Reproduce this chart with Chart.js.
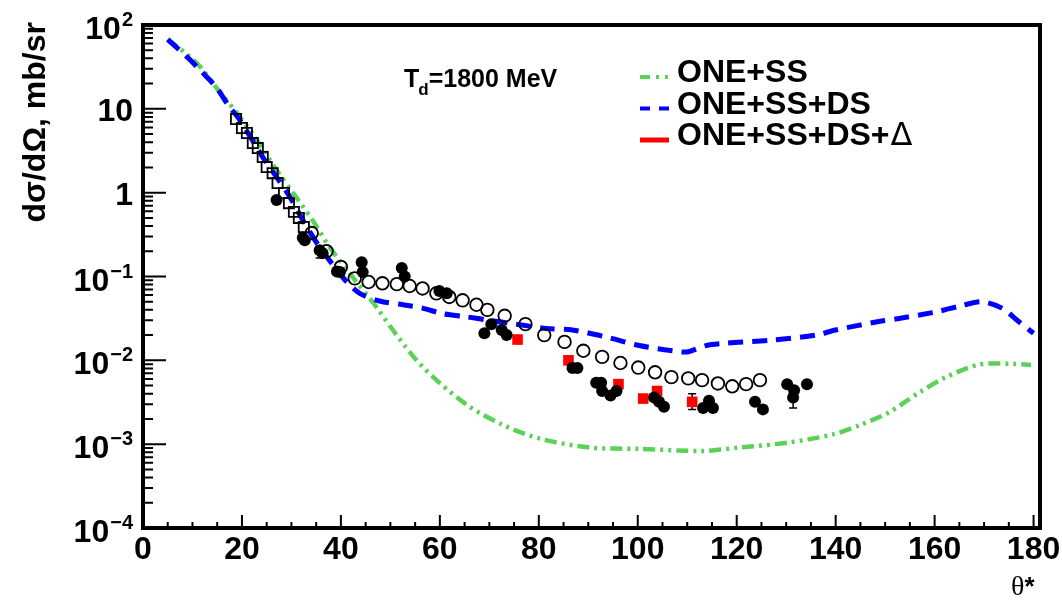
<!DOCTYPE html>
<html>
<head>
<meta charset="utf-8">
<script src="https://cdn.jsdelivr.net/npm/chart.js@4.4.1/dist/chart.umd.min.js"></script>
<style>
  html, body { margin: 0; padding: 0; background: #fff; }
</style>
</head>
<body>
<canvas id="xsec" width="1062" height="603"></canvas>
<script>
// dsigma/dOmega (mb/sr) vs theta* (deg), Td = 1800 MeV

// ONE+SS calculation
const oneSsAngle = [5, 10.9, 15.5, 19, 23, 27, 31.1, 34.7, 37.7, 42.4, 47.2, 50.5, 55.3, 59.9, 66, 72.7, 80.1, 90.2, 100.3, 113, 120.5, 130.6, 139.3, 145, 150.8, 156.8, 162.3, 169, 175.6, 179.5];
const oneSsValue = [68, 35, 15.9, 8.9, 4.25, 1.86, 0.86, 0.43, 0.224, 0.098, 0.043, 0.023, 0.010, 0.0054, 0.0028, 0.0017, 0.00117, 0.00091, 0.00088, 0.00083, 0.00091, 0.00105, 0.0013, 0.0017, 0.0024, 0.0041, 0.0063, 0.0089, 0.0091, 0.0088];

// ONE+SS+DS calculation
const oneSsDsAngle = [5, 8.9, 11.9, 14.9, 17.2, 19.6, 24.2, 27, 29.7, 32.3, 35.7, 39.2, 41.2, 43.8, 47.8, 52.5, 56.5, 60.6, 65.4, 70, 75.5, 81.5, 86.8, 93.6, 100.3, 107, 110, 113.8, 117.9, 127.1, 136, 140, 148.7, 152.8, 157.2, 161.3, 165.5, 169.5, 173.6, 177, 180];
const oneSsDsValue = [67, 41.6, 27.6, 17.8, 11.1, 7.3, 2.66, 1.53, 0.885, 0.47, 0.224, 0.12, 0.086, 0.063, 0.051, 0.046, 0.042, 0.036, 0.033, 0.030, 0.027, 0.024, 0.023, 0.019, 0.015, 0.013, 0.0126, 0.015, 0.016, 0.0174, 0.020, 0.023, 0.029, 0.0316, 0.035, 0.039, 0.045, 0.050, 0.042, 0.029, 0.021];

// ONE+SS+DS+Delta calculation (legend entry only)
const oneSsDsDeltaAngle = [];
const oneSsDsDeltaValue = [];

// measurements: open squares
const sqOpenAngle = [18.8, 20.0, 21.0, 22.2, 23.2, 24.2, 25.0, 26.2, 27.2, 28.5, 29.5, 30.5, 31.5, 32.5];
const sqOpenValue = [7.55, 5.9, 5.14, 3.9, 3.4, 2.66, 2.02, 1.71, 1.30, 0.99, 0.75, 0.59, 0.50, 0.39];

// measurements: filled circles
const dotAngle = [27.0, 32.3, 32.7, 35.7, 36.3, 39.2, 39.8, 44.2, 44.4, 52.3, 52.9, 59.9, 61.4, 69.0, 70.4, 72.5, 73.5, 86.8, 87.8, 91.6, 92.6, 92.8, 94.5, 95.7, 103.3, 104.3, 105.3, 113.2, 114.4, 115.2, 123.7, 125.3, 130.2, 131.6, 131.4, 134.2];
const dotValue = [0.82, 0.29, 0.27, 0.206, 0.19, 0.115, 0.113, 0.148, 0.113, 0.126, 0.10, 0.067, 0.063, 0.021, 0.027, 0.023, 0.020, 0.0081, 0.0081, 0.0054, 0.0054, 0.0043, 0.0038, 0.0043, 0.0036, 0.0032, 0.0028, 0.0027, 0.0033, 0.0027, 0.0032, 0.0026, 0.0052, 0.0044, 0.0036, 0.0052];
const dotErrLow = [null, null, null, 0.166, null, null, null, null, null, null, null, null, null, null, null, null, null, null, null, null, null, null, null, null, null, null, null, null, null, null, null, null, null, null, 0.0027, null];
const dotErrHigh = [null, null, null, 0.23, null, null, null, null, null, null, null, null, null, null, null, null, null, null, null, null, null, null, null, null, null, null, null, null, null, null, null, null, null, null, 0.0044, null];

// measurements: open circles
const ringAngle = [34.1, 37.1, 40, 42.8, 45.6, 48.4, 51.3, 53.9, 56.5, 59.3, 61.9, 64.6, 67.4, 69.6, 73.1, 77.3, 81.1, 85.2, 89, 92.8, 96.5, 100.1, 103.5, 106.8, 110.2, 113, 116.2, 119.1, 121.9, 124.7];
const ringValue = [0.33, 0.2, 0.13, 0.095, 0.086, 0.083, 0.081, 0.077, 0.072, 0.063, 0.057, 0.052, 0.046, 0.040, 0.034, 0.027, 0.020, 0.0166, 0.013, 0.011, 0.0093, 0.0082, 0.0072, 0.0063, 0.0061, 0.0058, 0.0053, 0.0049, 0.0052, 0.0058];

// measurements: red squares
const sqRedAngle = [75.7, 86, 96.1, 101.1, 103.9, 111];
const sqRedValue = [0.0177, 0.0100, 0.0052, 0.0035, 0.0043, 0.0032];
const sqRedErrLow = [null, null, null, null, null, 0.0026];
const sqRedErrHigh = [null, null, null, null, null, 0.0040];

// axis ticks
const xTickValues = [0, 20, 40, 60, 80, 100, 120, 140, 160, 180];
const xTickLabels = ['0', '20', '40', '60', '80', '100', '120', '140', '160', '180'];
const yTickValues = [1e-4, 1e-3, 1e-2, 1e-1, 1, 10, 100];
const yTickBase = ['10', '10', '10', '10', '1', '10', '10'];
const yTickExp = ['\u22124', '\u22123', '\u22122', '\u22121', '', '', '2'];

const xTitle = ['\u03b8', '*'];
const yTitle = 'd\u03c3/d\u03a9, mb/sr';
const beamLabel = ['T', 'd', '=1800 MeV'];

const toXY = (xs, ys) => xs.map((v, i) => ({ x: v, y: ys[i] }));

const BOLD = '"Liberation Sans", Arial, Helvetica, sans-serif';

const decorations = {
  id: 'decorations',
  beforeDatasetsDraw(chart) {
    const { ctx, scales: { x, y } } = chart;
    ctx.save();
    ctx.lineWidth = 1.5;
    chart.data.datasets.forEach(ds => {
      if (!ds.errLow) return;
      ds.data.forEach((p, i) => {
        if (ds.errLow[i] == null) return;
        const px = x.getPixelForValue(p.x);
        const lo = y.getPixelForValue(ds.errLow[i]);
        const hi = y.getPixelForValue(ds.errHigh[i]);
        ctx.strokeStyle = '#000';
        ctx.beginPath();
        ctx.moveTo(px, lo); ctx.lineTo(px, hi);
        ctx.moveTo(px - 4, lo); ctx.lineTo(px + 4, lo);
        ctx.moveTo(px - 4, hi); ctx.lineTo(px + 4, hi);
        ctx.stroke();
      });
    });
    ctx.restore();
  },
  afterDraw(chart) {
    const { ctx, chartArea: a, scales: { x, y } } = chart;
    ctx.save();

    // frame
    ctx.strokeStyle = '#000';
    ctx.lineWidth = 4;
    ctx.strokeRect(a.left, a.top, a.right - a.left, a.bottom - a.top);

    // inward ticks on the bottom axis
    ctx.lineWidth = 2;
    ctx.beginPath();
    for (let v = 0; v <= 180; v += 5) {
      const px = x.getPixelForValue(v);
      const len = v % 20 === 0 ? 13 : 6;
      ctx.moveTo(px, a.bottom);
      ctx.lineTo(px, a.bottom - len);
    }
    // inward ticks on the left axis
    for (let e = -4; e <= 2; e++) {
      for (let m = 1; m <= 9; m++) {
        const v = m * Math.pow(10, e);
        if (v > 100.0001) break;
        const py = y.getPixelForValue(v);
        const len = m === 1 ? 23 : 10;
        ctx.moveTo(a.left, py);
        ctx.lineTo(a.left + len, py);
      }
    }
    ctx.stroke();

    ctx.fillStyle = '#000';

    // x tick labels
    ctx.font = 'bold 32px ' + BOLD;
    ctx.textAlign = 'center';
    ctx.textBaseline = 'alphabetic';
    xTickValues.forEach((v, i) => {
      ctx.fillText(xTickLabels[i], x.getPixelForValue(v), 559);
    });

    // y tick labels with superscript exponents
    yTickValues.forEach((v, i) => {
      const py = y.getPixelForValue(v);
      const right = 133;
      const exp = yTickExp[i];
      ctx.textAlign = 'right';
      if (exp) {
        ctx.font = 'bold 20px ' + BOLD;
        const ew = ctx.measureText(exp).width;
        ctx.fillText(exp, right, py + 1);
        ctx.font = 'bold 32px ' + BOLD;
        ctx.fillText(yTickBase[i], right - ew - 1, py + 14);
      } else {
        ctx.font = 'bold 32px ' + BOLD;
        ctx.fillText(yTickBase[i], right, py + 12);
      }
    });

    // y axis title
    ctx.save();
    ctx.translate(45, 22);
    ctx.rotate(-Math.PI / 2);
    ctx.font = 'bold 32px ' + BOLD;
    ctx.textAlign = 'right';
    ctx.fillText(yTitle, 0, 0);
    ctx.restore();

    // x axis title
    ctx.textAlign = 'left';
    ctx.font = '28px "Liberation Serif", "DejaVu Serif", serif';
    ctx.fillText(xTitle[0], 1011, 595);
    const tw = ctx.measureText(xTitle[0]).width;
    ctx.font = 'bold 26px ' + BOLD;
    ctx.fillText(xTitle[1], 1011 + tw, 595);

    // beam energy label
    ctx.font = 'bold 25px ' + BOLD;
    ctx.fillText(beamLabel[0], 404, 87);
    let cx = 404 + ctx.measureText(beamLabel[0]).width;
    ctx.font = 'bold 17px ' + BOLD;
    ctx.fillText(beamLabel[1], cx - 1, 95);
    cx += ctx.measureText(beamLabel[1]).width - 1;
    ctx.font = 'bold 25px ' + BOLD;
    ctx.fillText(beamLabel[2], cx, 87);

    // legend for the three calculations
    const entries = chart.data.datasets.filter(ds => ds.inLegend);
    entries.forEach((ds, i) => {
      const base = 82 + i * 31.5;
      ctx.save();
      ctx.strokeStyle = ds.borderColor;
      ctx.lineWidth = ds.legendWidth;
      ctx.setLineDash(ds.legendDash || []);
      ctx.beginPath();
      ctx.moveTo(640, base - 5);
      ctx.lineTo(669, base - 5);
      ctx.stroke();
      ctx.restore();
      ctx.textAlign = 'left';
      ctx.font = 'bold 32px ' + BOLD;
      const txt = ds.label.replace('\u0394', '');
      ctx.fillText(txt, 677, base);
      if (ds.label.endsWith('\u0394')) {
        const w = ctx.measureText(txt).width;
        ctx.font = '32px "DejaVu Sans", "Liberation Sans", sans-serif';
        ctx.fillText('\u0394', 677 + w + 1, base);
      }
    });

    ctx.restore();
  }
};

new Chart(document.getElementById('xsec'), {
  type: 'scatter',
  data: {
    datasets: [
      {
        label: 'data open squares',
        data: toXY(sqOpenAngle, sqOpenValue),
        pointStyle: 'rect',
        pointRadius: 7.2,
        backgroundColor: 'rgba(0,0,0,0)',
        borderColor: '#000',
        borderWidth: 1.8,
        order: 0
      },
      {
        label: 'data open circles',
        data: toXY(ringAngle, ringValue),
        pointStyle: 'circle',
        pointRadius: 6.3,
        backgroundColor: 'rgba(0,0,0,0)',
        borderColor: '#000',
        borderWidth: 1.8,
        order: 0
      },
      {
        label: 'data filled circles',
        data: toXY(dotAngle, dotValue),
        errLow: dotErrLow,
        errHigh: dotErrHigh,
        pointStyle: 'circle',
        pointRadius: 6,
        backgroundColor: '#000',
        borderColor: '#000',
        borderWidth: 0,
        order: 0
      },
      {
        label: 'data red squares',
        data: toXY(sqRedAngle, sqRedValue),
        errLow: sqRedErrLow,
        errHigh: sqRedErrHigh,
        pointStyle: 'rect',
        pointRadius: 7.5,
        backgroundColor: '#ff0000',
        borderColor: '#ff0000',
        borderWidth: 0,
        order: 0
      },
      {
        label: 'ONE+SS',
        inLegend: true,
        data: toXY(oneSsAngle, oneSsValue),
        showLine: true,
        pointRadius: 0,
        borderColor: '#5ad25a',
        borderWidth: 4.5,
        borderDash: [12, 5, 3, 5, 3, 5],
        legendWidth: 4,
        legendDash: [10, 6, 3, 6, 3, 6],
        tension: 0.3,
        order: 2
      },
      {
        label: 'ONE+SS+DS',
        inLegend: true,
        data: toXY(oneSsDsAngle, oneSsDsValue),
        showLine: true,
        pointRadius: 0,
        borderColor: '#0000ff',
        borderWidth: 5,
        borderDash: [15, 9],
        legendWidth: 4,
        legendDash: [10, 9],
        tension: 0.3,
        order: 1
      },
      {
        label: 'ONE+SS+DS+\u0394',
        inLegend: true,
        data: toXY(oneSsDsDeltaAngle, oneSsDsDeltaValue),
        showLine: true,
        pointRadius: 0,
        borderColor: '#ff0000',
        borderWidth: 5,
        legendWidth: 5,
        order: 1
      }
    ]
  },
  options: {
    responsive: false,
    animation: false,
    layout: { padding: { left: 143, right: 22, top: 25, bottom: 75 } },
    plugins: { legend: { display: false }, tooltip: { enabled: false } },
    scales: {
      x: { type: 'linear', min: 0, max: 181.3, display: false },
      y: { type: 'logarithmic', min: 1e-4, max: 100, display: false }
    }
  },
  plugins: [decorations]
});
</script>
</body>
</html>
